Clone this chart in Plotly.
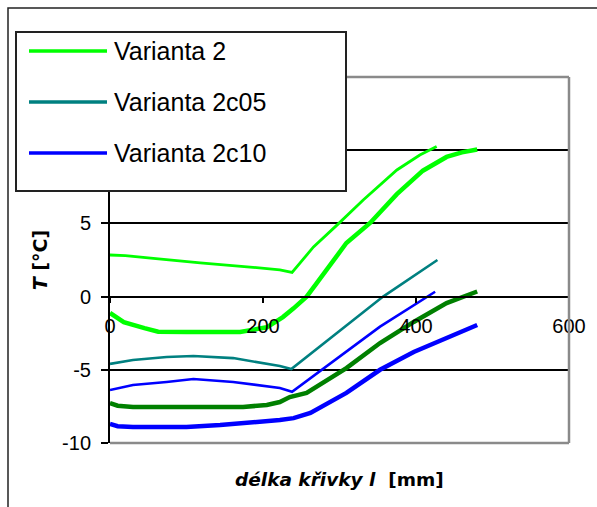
import plotly.graph_objects as go

# ---------------- data ----------------
legend_names = ["Varianta 2", "Varianta 2c05", "Varianta 2c10"]

v2_calc_x = [0, 20, 60, 118, 183, 222, 238, 266, 297, 331, 375, 405, 427]
v2_calc_y = [2.84, 2.8, 2.6, 2.3, 2.02, 1.82, 1.65, 3.39, 4.9, 6.6, 8.65, 9.67, 10.25]

v2_meas_x = [0, 18, 45, 63, 100, 170, 205, 226, 240, 257, 270, 309, 340, 375, 409, 425, 440, 460, 480]
v2_meas_y = [-1.12, -1.74, -2.15, -2.4, -2.42, -2.42, -2.1, -1.4, -0.8, 0.0, 0.9, 3.66, 5.03, 7.0, 8.6, 9.1, 9.54, 9.85, 10.05]

v2c05_x = [0, 30, 74, 109, 161, 222, 237, 309, 357, 428]
v2c05_y = [-4.6, -4.33, -4.13, -4.06, -4.2, -4.74, -4.95, -2.0, 0.0, 2.5]

v2c10_x = [0, 30, 74, 109, 161, 222, 238, 309, 353, 425]
v2c10_y = [-6.38, -6.04, -5.83, -5.63, -5.83, -6.24, -6.5, -3.78, -2.05, 0.33]

dg_x = [0, 10, 30, 100, 174, 205, 222, 235, 257, 309, 353, 397, 440, 480]
dg_y = [-7.27, -7.45, -7.54, -7.54, -7.54, -7.4, -7.2, -6.86, -6.58, -4.88, -3.17, -1.73, -0.44, 0.35]

b_meas_x = [0, 10, 30, 100, 144, 196, 222, 240, 262, 309, 353, 397, 440, 480]
b_meas_y = [-8.7, -8.85, -8.9, -8.9, -8.77, -8.57, -8.43, -8.3, -7.95, -6.58, -5.0, -3.78, -2.83, -1.94]

x_ticks = [0, 200, 400, 600]
y_ticks = [-10, -5, 0, 5, 10, 15]

# ---------------- styles ----------------
C_LGREEN = "#00FF00"
C_TEAL = "#008080"
C_BLUE = "#0000FF"
C_DGREEN = "#008000"
legend_colors = [C_LGREEN, C_TEAL, C_BLUE]

W, H = 597, 507
ML, MR, MT, MB = 110, 28, 77, 64
PW, PH = W - ML - MR, H - MT - MB


def px2paper(px, py):
    return (px - ML) / PW, (H - MB - py) / PH


fig = go.Figure()

series = [
    (v2_calc_x, v2_calc_y, C_LGREEN, 2.8, legend_names[0]),
    (v2_meas_x, v2_meas_y, C_LGREEN, 4.5, legend_names[0] + " (měření)"),
    (v2c05_x, v2c05_y, C_TEAL, 2.6, legend_names[1]),
    (v2c10_x, v2c10_y, C_BLUE, 2.6, legend_names[2]),
    (dg_x, dg_y, C_DGREEN, 4.5, "Varianta 2c05 (měření)"),
    (b_meas_x, b_meas_y, C_BLUE, 4.5, "Varianta 2c10 (měření)"),
]
for xs, ys, col, w, name in series:
    fig.add_trace(go.Scatter(x=xs, y=ys, mode="lines", name=name,
                             line=dict(color=col, width=w), showlegend=False))

tick_font = dict(family="Liberation Sans, Arial, sans-serif", size=20, color="black")
title_font = dict(family="DejaVu Sans, sans-serif", size=19, color="black", weight="bold")

fig.update_layout(
    width=W, height=H,
    margin=dict(l=ML, r=MR, t=MT, b=MB),
    paper_bgcolor="white", plot_bgcolor="white",
    showlegend=False,
    xaxis=dict(range=[0, 600], tickvals=x_ticks, ticktext=[str(v) for v in x_ticks],
               showgrid=False, zeroline=False, showline=True, linecolor="black",
               linewidth=1.5, ticks="outside", ticklen=6, tickwidth=1.5, tickcolor="black",
               anchor="free", position=0.4, tickfont=tick_font, ticklabelstandoff=6),
    yaxis=dict(range=[-10, 15], tickvals=y_ticks, ticktext=[str(v) for v in y_ticks],
               showgrid=True, gridcolor="black", gridwidth=1.5, zeroline=False,
               showline=True, linecolor="black", linewidth=2, ticks="outside",
               ticklen=7, tickwidth=1.5, tickcolor="black", tickfont=tick_font,
               ticklabelstandoff=6,
               title=dict(text="<i>T</i> [°C]", font=title_font, standoff=9)),
)

shapes = []
# plot-area border (grey) top / right / bottom
for x0, y0, x1, y1 in [(0, 1, 1, 1), (1, 0, 1, 1), (0, 0, 1, 0)]:
    shapes.append(dict(type="line", xref="paper", yref="paper", x0=x0, y0=y0, x1=x1, y1=y1,
                       line=dict(color="#8a8a8a", width=2.5), layer="above"))
# outer chart border
ox0, oy1 = px2paper(8, 8)
ox1, oy0 = px2paper(620, 530)
shapes.append(dict(type="rect", xref="paper", yref="paper", x0=ox0, y0=oy0, x1=ox1, y1=oy1,
                   line=dict(color="#222222", width=1.5), fillcolor="rgba(0,0,0,0)", layer="above"))
# legend box
lx0, ly1 = px2paper(16, 32)
lx1, ly0 = px2paper(346, 191)
shapes.append(dict(type="rect", xref="paper", yref="paper", x0=lx0, y0=ly0, x1=lx1, y1=ly1,
                   line=dict(color="#222222", width=2), fillcolor="white", layer="above"))
annotations = []
for i, (nm, col) in enumerate(zip(legend_names, legend_colors)):
    yy = 51 + i * 51
    a0, b0 = px2paper(29, yy)
    a1, _ = px2paper(107, yy)
    shapes.append(dict(type="line", xref="paper", yref="paper", x0=a0, y0=b0, x1=a1, y1=b0,
                       line=dict(color=col, width=3.5), layer="above"))
    tx, _ = px2paper(112, yy)
    annotations.append(dict(text=nm, xref="paper", yref="paper", x=tx, y=b0,
                            xanchor="left", yanchor="middle", showarrow=False,
                            font=dict(family="Liberation Sans, Arial, sans-serif", size=25, color="black")))

_, xty = px2paper(0, 479)
annotations.append(dict(text="<b><i>délka křivky l</i>\u00a0\u00a0[mm]</b>", xref="paper", yref="paper",
                        x=0.5, y=xty, xanchor="center", yanchor="middle", showarrow=False,
                        font=dict(family="DejaVu Sans, sans-serif", size=18.5, color="black")))

fig.update_layout(shapes=shapes, annotations=annotations)
fig.write_html("out.html", config={"displayModeBar": False},
               post_script="document.body.style.margin='0';document.body.style.overflow='hidden';")
